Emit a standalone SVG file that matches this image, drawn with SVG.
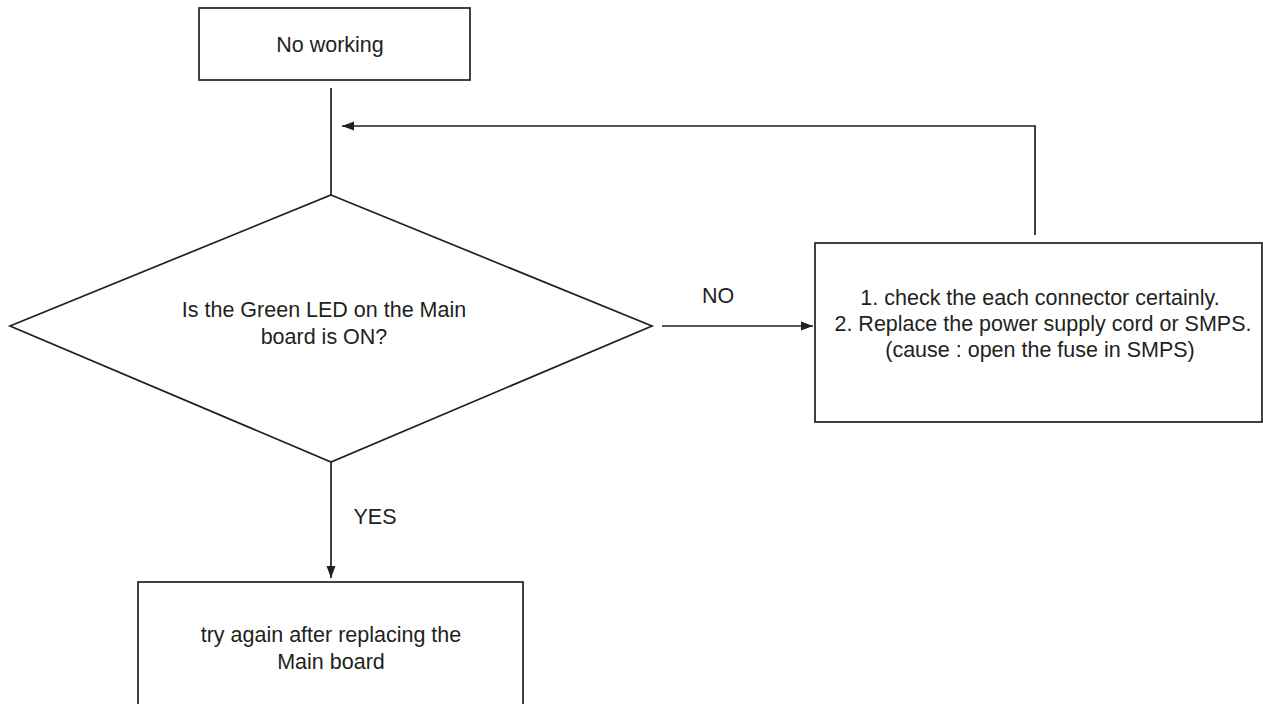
<svg xmlns="http://www.w3.org/2000/svg" width="1263" height="704" viewBox="0 0 1263 704">
<style>
.box{fill:#fff;stroke:#231f20;stroke-width:1.7}
.ln{fill:none;stroke:#231f20;stroke-width:1.7}
text{font-family:"Liberation Sans",Arial,sans-serif;font-size:21.5px;fill:#231f20;text-anchor:middle}
</style>
<defs>
<marker id="ah" viewBox="0 0 12 10" refX="12" refY="5" markerWidth="12" markerHeight="10" markerUnits="userSpaceOnUse" orient="auto">
<path d="M0,0.5 L12,5 L0,9.5 z" fill="#231f20"/>
</marker>
</defs>
<rect width="1263" height="704" fill="#fff"/>
<g id="connectors">
<line class="ln" x1="331" y1="88" x2="331" y2="195"/>
<polyline class="ln" points="1035,235 1035,126 342,126" marker-end="url(#ah)"/>
<line class="ln" x1="662" y1="326" x2="813" y2="326" marker-end="url(#ah)"/>
<line class="ln" x1="331" y1="462" x2="331" y2="578" marker-end="url(#ah)"/>
<text x="718" y="303">NO</text>
<text x="375" y="524">YES</text>
</g>
<g id="start">
<rect class="box" x="199" y="8" width="271" height="72"/>
<text x="330" y="52">No working</text>
</g>
<g id="decision">
<polygon class="box" points="331,195 652,326 331,462 10,326"/>
<text x="324" y="317">Is the Green LED on the Main</text>
<text x="324" y="344">board is ON?</text>
</g>
<g id="fix">
<rect class="box" x="815" y="243" width="447" height="179"/>
<text x="1040" y="305">1. check the each connector certainly.</text>
<text x="1043" y="331">2. Replace the power supply cord or SMPS.</text>
<text x="1040" y="357">(cause : open the fuse in SMPS)</text>
</g>
<g id="replace">
<rect class="box" x="138" y="582" width="385" height="130"/>
<text x="331" y="642">try again after replacing the</text>
<text x="331" y="669">Main board</text>
</g>
</svg>
